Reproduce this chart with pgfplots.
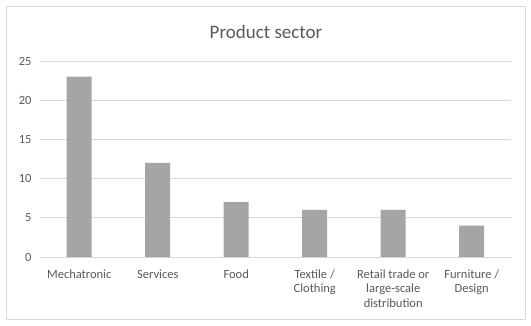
\documentclass[border=0pt]{standalone}
\usepackage{fontspec}
\setmainfont{Carlito}
\usepackage{pgfplots}
\pgfplotsset{compat=1.18}
\definecolor{barc}{HTML}{A5A5A5}
\definecolor{gridc}{HTML}{D9D9D9}
\definecolor{txt}{HTML}{595959}
\begin{document}
\begin{tikzpicture}[x=1pt,y=1pt]
\fill[white] (-40,-68) rectangle (491,257);
\useasboundingbox (-40,-68) rectangle (491,257);
\draw[gridc, line width=0.8pt] (-34,-62) rectangle (485,251);
\begin{axis}[
  at={(0,0)}, anchor=south west,
  scale only axis, width=471pt, height=196pt,
  xmin=-0.5, xmax=5.5, ymin=0, ymax=25,
  ytick={0,5,10,15,20,25},
  xtick={0,1,2,3,4,5},
  xticklabels={Mechatronic, Services, Food, {Textile /\\Clothing}, {Retail trade or\\large-scale\\distribution}, {Furniture /\\Design}},
  axis x line*=bottom, axis y line*=left,
  axis line style={-},
  y axis line style={draw=none},
  x axis line style={gridc, line width=0.8pt},
  major tick length=0pt,
  ymajorgrids,
  grid style={gridc, line width=0.8pt},
  /pgf/number format/assume math mode=true,
  yticklabel style={font=\fontsize{12.5}{14}\selectfont, text=txt, xshift=-5pt},
  xticklabel style={font=\fontsize{12.5}{14.5}\selectfont, text=txt, align=center, anchor=north, yshift=-9pt},
  ybar, bar width=25pt,
  clip=false,
]
\addplot[fill=barc, draw=none] coordinates {(0,23) (1,12) (2,7) (3,6) (4,6) (5,4)};
\end{axis}
\node[font=\fontsize{19}{23}\selectfont, text=txt] at (226,225) {Product sector};
\end{tikzpicture}
\end{document}
